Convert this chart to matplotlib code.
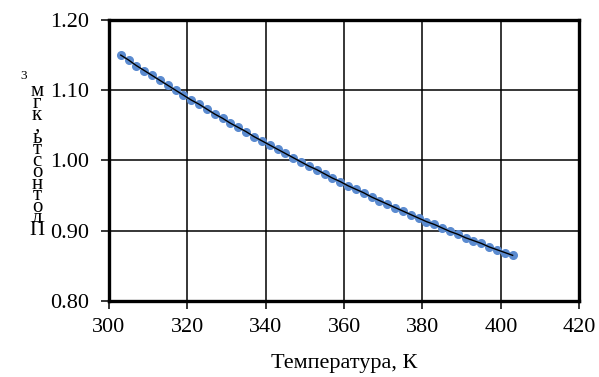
import matplotlib
matplotlib.use("Agg")
import matplotlib.pyplot as plt

# data
temperature = list(range(303, 404, 2))
density = [1.150, 1.143, 1.135, 1.128, 1.121, 1.114, 1.107, 1.100, 1.093, 1.086,
           1.080, 1.073, 1.066, 1.060, 1.053, 1.047, 1.041, 1.034, 1.028, 1.022,
           1.016, 1.010, 1.004, 0.998, 0.992, 0.987, 0.981, 0.975, 0.970, 0.964,
           0.959, 0.954, 0.948, 0.943, 0.938, 0.933, 0.928, 0.923, 0.918, 0.913,
           0.909, 0.904, 0.899, 0.895, 0.890, 0.886, 0.882, 0.877, 0.873, 0.869,
           0.865]
x_ticks = [300, 320, 340, 360, 380, 400, 420]
y_ticks = [0.80, 0.90, 1.00, 1.10, 1.20]
y_chars = list("Плотность,кгм")

plt.rcParams['font.family'] = ['Liberation Serif', 'DejaVu Serif']

fig = plt.figure(figsize=(5.99, 3.77), dpi=100)
ax = fig.add_axes([0.182, 0.2016, 0.785, 0.7454])

ax.plot(temperature, density, 'o', color='#5B8BD0', markersize=5.5, zorder=3)
ax.plot(temperature, density, '-', color='black', linewidth=1.0, zorder=4)

ax.set_xlim(300, 420)
ax.set_ylim(0.80, 1.20)
ax.set_xticks(x_ticks)
ax.set_yticks(y_ticks)
ax.set_yticklabels([f"{v:.2f}" for v in y_ticks])
ax.grid(True, color='black', linewidth=1.1)
ax.set_axisbelow(True)
for s in ax.spines.values():
    s.set_linewidth(2.4)
ax.tick_params(labelsize=16, length=6, width=1.1, color='black')
ax.tick_params(axis='x', pad=6.5)
ax.tick_params(axis='y', pad=8.5)
ax.set_xlabel('Температура, К', fontsize=16, labelpad=12)

# stacked y label: one upright character per step, bottom to top
y0 = 1 - 230 / 377
step = 11.5 / 377
for i, ch in enumerate(y_chars):
    fig.text(37 / 599, y0 + i * step, ch, fontsize=15, ha='center', va='center')
fig.text(24 / 599, 1 - 76 / 377, '3', fontsize=9.5, ha='center', va='center')

fig.savefig('out.png', dpi=100)
